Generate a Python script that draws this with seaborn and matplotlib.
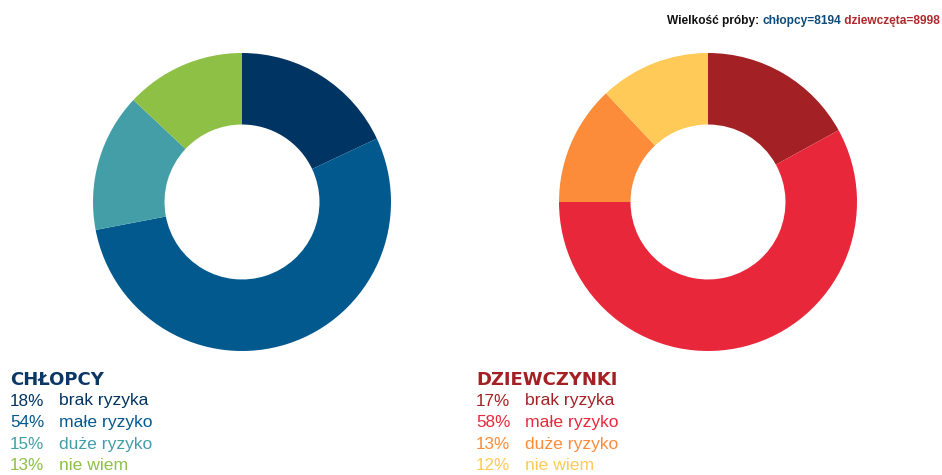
import matplotlib
matplotlib.use('Agg')
import matplotlib.pyplot as plt
import seaborn as sns

# Data
labels = ['brak ryzyka', 'małe ryzyko', 'duże ryzyko', 'nie wiem']
boys_pct = [18, 54, 15, 13]
girls_pct = [17, 58, 13, 12]
boys_colors = ['#003462', '#02598E', '#449EA8', '#8DC045']
girls_colors = ['#A32124', '#E8283A', '#FD8C3A', '#FFCA57']
boys_title = 'CHŁOPCY'
girls_title = 'DZIEWCZYNKI'
sample_parts = ['Wielkość próby: ', 'chłopcy=8194', ' dziewczęta=8998']
sample_colors = ['#111111', '#0E4A7A', '#B0282C']

sns.set_theme(style='white')
plt.rcParams['font.family'] = ['Liberation Sans', 'DejaVu Sans']

fig = plt.figure(figsize=(9.42, 4.75), dpi=100)
W, H = 942, 475


def donut(cx, cy, r, values, colors):
    ax = fig.add_axes([(cx - r) / W, 1 - (cy + r) / H, 2 * r / W, 2 * r / H])
    ax.pie(values, colors=colors, startangle=90, counterclock=False,
           wedgeprops=dict(width=0.48, edgecolor='none'), radius=1)
    ax.set_xlim(-1, 1)
    ax.set_ylim(-1, 1)
    ax.set_aspect('equal')
    ax.axis('off')


donut(242, 202, 149, boys_pct, boys_colors)
donut(708, 202, 149, girls_pct, girls_colors)


def legend_block(x, title, values, colors, title_color):
    fig.text(x / W, 1 - 380 / H, title, color=title_color, fontsize=13,
             fontweight='heavy', family=['DejaVu Sans'], va='center', ha='left')
    for i, (v, lab, c) in enumerate(zip(values, labels, colors)):
        y = 1 - (401 + i * 21.6) / H
        fig.text(x / W, y, f'{v}%', color=c, fontsize=12.3, va='center', ha='left')
        fig.text((x + 49) / W, y, lab, color=c, fontsize=12.6, va='center', ha='left')


legend_block(10, boys_title, boys_pct, boys_colors, '#0A3764')
legend_block(476, girls_title, girls_pct, girls_colors, '#A32124')

# multi-coloured sample size note, right aligned
fig.canvas.draw()
renderer = fig.canvas.get_renderer()
x_right = 940
for part, c in reversed(list(zip(sample_parts, sample_colors))):
    t = fig.text(x_right / W, 1 - 21 / H, part, color=c, fontsize=8.6,
                 fontweight='bold', family=['Liberation Sans'],
                 ha='right', va='center')
    bb = t.get_window_extent(renderer=renderer)
    x_right -= bb.width

fig.savefig('out.png', dpi=100)
